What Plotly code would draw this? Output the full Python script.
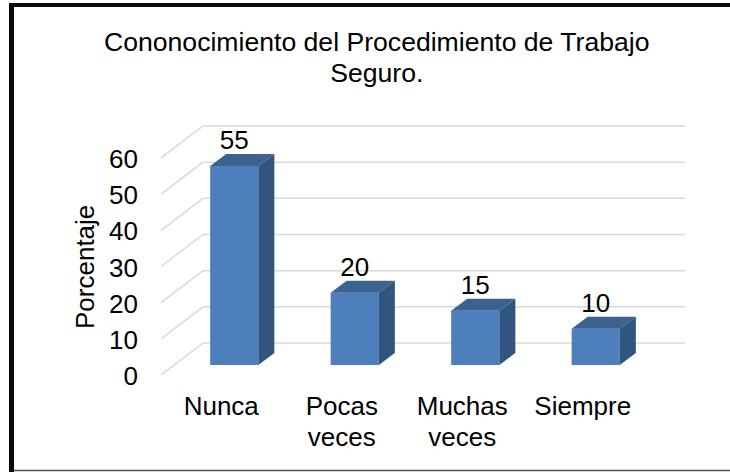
import plotly.graph_objects as go

categories = ["Nunca", "Pocas<br>veces", "Muchas<br>veces", "Siempre"]
values = [55, 20, 15, 10]
y_ticks = [0, 10, 20, 30, 40, 50, 60]
title_lines = ["Cononocimiento del Procedimiento de Trabajo", "Seguro."]
y_title = "Porcentaje"

W, H = 730, 472
L, R, T, B = 161, 45, 115, 97
PX_X = 120.5
PX_Y = 3.617
X0 = -0.5
X1 = X0 + (W - L - R) / PX_X
Y1 = (H - T - B) / PX_Y

# depth offsets converted from the oblique projection into data units
wall_dx, wall_dy = 42 / PX_X, 32 / PX_Y
bar_dx, bar_dy = 16 / PX_X, 12 / PX_Y
front_dx, front_dy = 13 / PX_X, 10 / PX_Y
half = 0.2

FRONT, TOP, SIDE = "#4d7fbc", "#3c6290", "#32557f"
GRID = "#d9d9d9"
FONT = "Liberation Sans, Arial, sans-serif"
FS = 26

fig = go.Figure()

xs = [i + front_dx for i in range(len(values))]
fig.add_bar(x=xs, y=values, base=front_dy, width=half * 2,
            marker=dict(color=FRONT, line=dict(width=0)), hoverinfo="skip")

for x, v in zip(xs, values):
    t = front_dy + v
    fig.add_scatter(
        x=[x - half, x + half, x + half + bar_dx, x - half + bar_dx, x - half],
        y=[t, t, t + bar_dy, t + bar_dy, t],
        mode="lines", fill="toself", fillcolor=TOP, line=dict(width=0),
        hoverinfo="skip")
    fig.add_scatter(
        x=[x + half, x + half + bar_dx, x + half + bar_dx, x + half, x + half],
        y=[front_dy, front_dy + bar_dy, t + bar_dy, t, front_dy],
        mode="lines", fill="toself", fillcolor=SIDE, line=dict(width=0),
        hoverinfo="skip")

fig.add_scatter(
    x=xs,
    y=[front_dy + v + bar_dy - 0.4 for v in values],
    mode="text", text=[str(v) for v in values], textposition="top center",
    textfont=dict(family=FONT, size=FS, color="#000000"), hoverinfo="skip")

shapes = []
for t in y_ticks:
    shapes.append(dict(type="line", xref="x", yref="y", layer="below",
                       x0=X0, y0=t, x1=X0 + wall_dx, y1=t + wall_dy,
                       line=dict(color=GRID, width=1.5)))
    shapes.append(dict(type="line", xref="x", yref="y", layer="below",
                       x0=X0 + wall_dx, y0=t + wall_dy, x1=X1, y1=t + wall_dy,
                       line=dict(color=GRID, width=1.5)))
PW, PH = W - L - R, H - T - B
def px(v): return (v - L) / PW
def py(v): return (H - B - v) / PH
# outer frame of the picture: heavy left and top edges, thin bottom edge
shapes += [
    dict(type="line", xref="paper", yref="paper", x0=px(11.5), x1=px(11.5),
         y0=py(472), y1=py(3), line=dict(color="#0a0a0a", width=5), layer="below"),
    dict(type="line", xref="paper", yref="paper", x0=px(9), x1=px(730),
         y0=py(5), y1=py(5), line=dict(color="#0a0a0a", width=4), layer="below"),
    dict(type="line", xref="paper", yref="paper", x0=px(14), x1=px(730),
         y0=py(470.5), y1=py(470.5), line=dict(color="#555555", width=1.5), layer="below"),
]

fig.update_layout(
    width=W, height=H, showlegend=False,
    margin=dict(l=L, r=R, t=T, b=B, pad=0),
    paper_bgcolor="#ffffff", plot_bgcolor="rgba(0,0,0,0)",
    font=dict(family=FONT, size=FS, color="#000000"),
    shapes=shapes,
    annotations=[
        dict(text=f'<span style="font-size:{FS + 0.6}px">{title_lines[0]}</span><br>'
                  f'<span style="font-size:{FS + 0.6}px">{title_lines[1]}</span>',
             xref="paper", yref="paper", x=px(377), y=py(57.5),
             xanchor="center", yanchor="middle",
             showarrow=False, font=dict(family=FONT, size=24, color="#000000")),
        dict(text=y_title, textangle=-90, xref="paper", yref="paper",
             x=px(85), y=py(267), xanchor="center", yanchor="middle",
             showarrow=False, font=dict(family=FONT, size=FS, color="#000000")),
    ],
    xaxis=dict(range=[X0, X1], tickmode="array", tickvals=list(range(len(categories))),
               ticktext=[('<br>'.join(f'<span style="font-size:{FS}px">{p}</span>'
                                      for p in c.split('<br>'))) for c in categories],
               showgrid=False, zeroline=False, showline=False, ticks="",
               tickangle=0, ticklabelstandoff=15,
               tickfont=dict(family=FONT, size=24, color="#000000")),
    yaxis=dict(range=[0, Y1], tickmode="array", tickvals=y_ticks,
               ticktext=[str(t) for t in y_ticks],
               showgrid=False, zeroline=False, showline=False, ticks="",
               ticklabelstandoff=22, ticklabelshift=1,
               tickfont=dict(family=FONT, size=FS, color="#000000")),
)

fig.write_html("out.html", config={"displayModeBar": False},
               post_script="document.body.style.margin='0';")
